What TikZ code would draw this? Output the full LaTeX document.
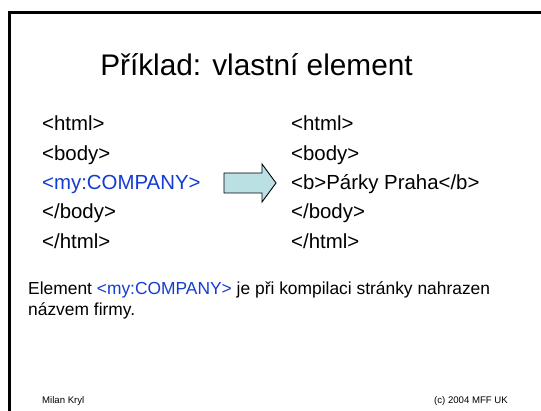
\documentclass[tikz,border=0pt]{standalone}
\usepackage{fontspec}
\setmainfont{Liberation Sans}
\definecolor{tagblue}{RGB}{20,60,210}
\definecolor{arrowfill}{RGB}{187,224,227}
\begin{document}
\begin{tikzpicture}[x=1pt,y=-1pt,
  code/.style={anchor=base west,inner sep=0pt,font=\fontsize{20.4}{24}\selectfont},
  para/.style={anchor=base west,inner sep=0pt,font=\fontsize{17.4}{21}\selectfont},
  foot/.style={anchor=base west,inner sep=0pt,font=\fontsize{9.6}{11}\selectfont},
  frame/.style={line width=2.4pt},
  bigarrow/.style={draw=black,line width=0.9pt,fill=arrowfill,line join=miter}]
\useasboundingbox (0,0) rectangle (541,411);
% slide frame
\draw[frame] (9.5,420) -- (9.5,12.5) -- (560,12.5);
% title
\node[anchor=base,inner sep=0pt,font=\fontsize{29.8}{34}\selectfont] (title) at (256.5,75.5) {Příklad: vlastní element};
% left column
\node[code] (l1) at (42,131) {<html>};
\node[code] (l2) at (42,160.3) {<body>};
\node[code,text=tagblue] (l3) at (42,189.6) {<my:COMPANY>};
\node[code] (l4) at (42,218.9) {</body>};
\node[code] (l5) at (42,248.2) {</html>};
% right column
\node[code] (r1) at (291,131) {<html>};
\node[code] (r2) at (291,160.3) {<body>};
\node[code] (r3) at (291,189.6) {<b>Párky Praha</b>};
\node[code] (r4) at (291,218.9) {</body>};
\node[code] (r5) at (291,248.2) {</html>};
% block arrow
\draw[bigarrow] (224,173) -- (262,173) -- (262,164) -- (276,183) -- (262,202) -- (262,193) -- (224,193) -- cycle;
% paragraph
\node[para] (p1) at (28,294.5) {Element \textcolor{tagblue}{<my:COMPANY>} je při kompilaci stránky nahrazen};
\node[para] (p2) at (28,315.5) {názvem firmy.};
% footer
\node[foot] (f1) at (42,404) {Milan Kryl};
\node[foot,anchor=base east] (f2) at (508,404) {(c) 2004 MFF UK};
\end{tikzpicture}
\end{document}
